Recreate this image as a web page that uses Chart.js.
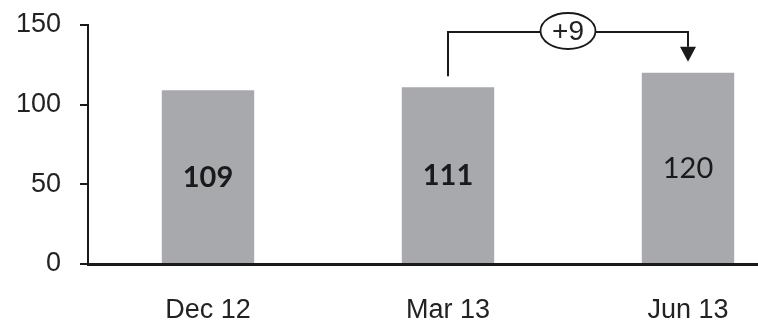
<!DOCTYPE html>
<html>
<head>
<meta charset="utf-8">
<script src="https://cdn.jsdelivr.net/npm/chart.js@4/dist/chart.umd.min.js"></script>
<style>
  html, body { margin: 0; padding: 0; background: #fff; overflow: hidden; }
  #wrap { width: 812px; height: 324px; }
</style>
</head>
<body>
<div id="wrap"><canvas id="c" width="812" height="324"></canvas></div>
<script>
// Quarterly values
const periods = ['Dec 12', 'Mar 13', 'Jun 13'];
const values = [109, 111, 120];
const yTicks = [0, 50, 100, 150];

const INK = '#1a1a1a';
const BAR = '#a7a9ac';
const AXIS_FONT = 'Liberation Sans';
const LABEL_FONT = 'Lato';
const labelWeight = ['bold', 'bold', 'normal'];

// Value written in the middle of each bar
const barLabels = {
  id: 'barLabels',
  afterDatasetsDraw(chart) {
    const ctx = chart.ctx;
    const meta = chart.getDatasetMeta(0);
    ctx.save();
    ctx.fillStyle = INK;
    ctx.textAlign = 'center';
    ctx.textBaseline = 'middle';
    meta.data.forEach((bar, i) => {
      ctx.font = labelWeight[i] + ' 29px ' + LABEL_FONT;
      ctx.fillText(String(values[i]), bar.x, (bar.y + bar.base) / 2 + 1);
    });
    ctx.restore();
  }
};

// Bracket with the change between the last two periods
const changeBracket = {
  id: 'changeBracket',
  afterDatasetsDraw(chart) {
    const ctx = chart.ctx;
    const meta = chart.getDatasetMeta(0);
    const a = meta.data[1], b = meta.data[2];
    const gap = 11;
    const yTop = chart.chartArea.top + 7;
    const cx = (a.x + b.x) / 2;
    const rx = 27.5, ry = 18;
    const tipY = b.y - gap;
    const headH = 15, headW = 8;
    ctx.save();
    ctx.strokeStyle = INK;
    ctx.fillStyle = INK;
    ctx.lineWidth = 2;
    ctx.beginPath();
    ctx.moveTo(a.x, a.y - gap);
    ctx.lineTo(a.x, yTop);
    ctx.lineTo(cx - rx, yTop);
    ctx.moveTo(cx + rx, yTop);
    ctx.lineTo(b.x, yTop);
    ctx.lineTo(b.x, tipY - headH);
    ctx.stroke();
    ctx.beginPath();
    ctx.moveTo(b.x - headW, tipY - headH);
    ctx.lineTo(b.x + headW, tipY - headH);
    ctx.lineTo(b.x, tipY);
    ctx.closePath();
    ctx.fill();
    ctx.lineWidth = 1.8;
    ctx.beginPath();
    ctx.ellipse(cx, yTop - 1, rx, ry, 0, 0, Math.PI * 2);
    ctx.stroke();
    const diff = values[2] - values[1];
    ctx.font = '28px ' + AXIS_FONT;
    ctx.textAlign = 'center';
    ctx.textBaseline = 'middle';
    ctx.fillStyle = '#222';
    ctx.fillText((diff >= 0 ? '+' : '') + diff, cx, yTop);
    ctx.restore();
  }
};

new Chart(document.getElementById('c'), {
  type: 'bar',
  data: {
    labels: periods,
    datasets: [{
      data: values,
      backgroundColor: BAR,
      borderWidth: 0,
      categoryPercentage: 1,
      barPercentage: 0.385
    }]
  },
  options: {
    responsive: false,
    animation: false,
    layout: { padding: { top: 25, right: 4, left: 0, bottom: 0 } },
    plugins: { legend: { display: false }, tooltip: { enabled: false } },
    scales: {
      x: {
        type: 'category',
        offset: true,
        grid: { display: false },
        border: { display: true, color: INK, width: 3 },
        ticks: { color: '#222', font: { family: AXIS_FONT, size: 27 }, padding: 22, maxRotation: 0 },
        afterFit(s) { s.height = 60; s.paddingLeft = 0; s.paddingRight = 0; }
      },
      y: {
        min: 0,
        max: 150,
        afterBuildTicks(s) { s.ticks = yTicks.map(v => ({ value: v })); },
        grid: { drawOnChartArea: false, drawTicks: true, tickLength: 8, color: INK, lineWidth: 2 },
        border: { display: true, color: INK, width: 2 },
        ticks: { color: '#222', font: { family: AXIS_FONT, size: 27 }, padding: 19 },
        afterFit(s) { s.width = 88; s.paddingTop = 0; s.paddingBottom = 0; }
      }
    }
  },
  plugins: [barLabels, changeBracket]
});
</script>
</body>
</html>
